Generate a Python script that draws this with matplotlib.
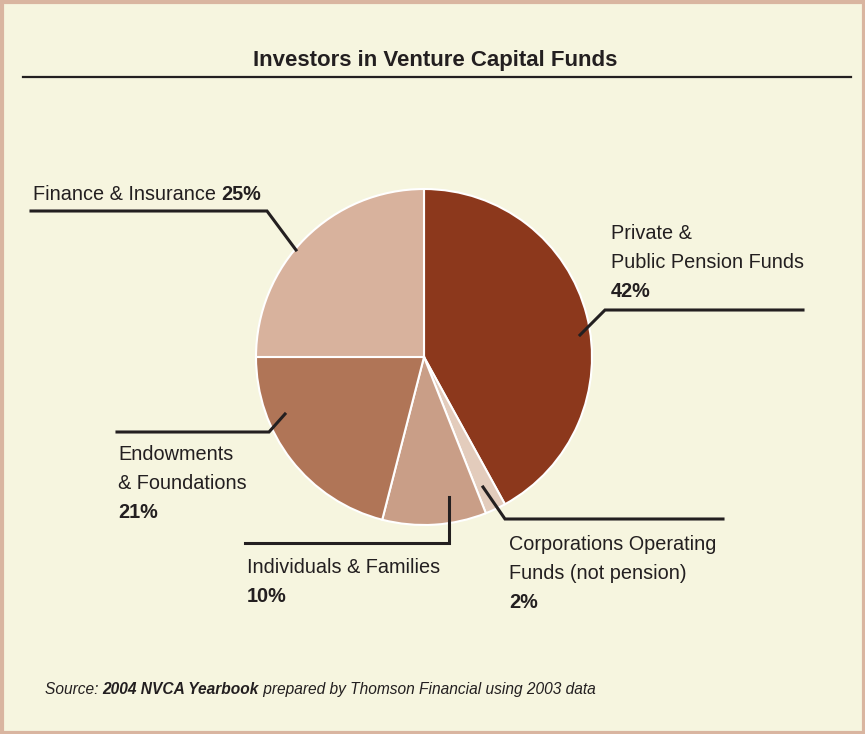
import matplotlib
matplotlib.use("Agg")
import matplotlib.pyplot as plt
from matplotlib.patches import Rectangle

# ---- data ----
categories = ["Private &\nPublic Pension Funds", "Corporations Operating\nFunds (not pension)",
              "Individuals & Families", "Endowments\n& Foundations", "Finance & Insurance"]
shares = [42, 2, 10, 21, 25]
pct_labels = ["42%", "2%", "10%", "21%", "25%"]
colors = ["#8C381C", "#E3CCBC", "#C99E87", "#B07557", "#D8B29D"]

title = "Investors in Venture Capital Funds"
BG = "#F6F5DF"
BORDER = "#D9B5A0"
INK = "#231F20"
FONT = ["Liberation Sans", "DejaVu Sans"]

W, H = 865, 734
fig = plt.figure(figsize=(W / 100, H / 100), dpi=100)
fig.patch.set_facecolor(BG)

# pie axes: centre (424,357) px, radius 168 px
cx, cy, r = 424, 357, 168
axp = fig.add_axes([(cx - r) / W, (H - cy - r) / H, 2 * r / W, 2 * r / H])
axp.pie(shares, colors=colors, startangle=90, counterclock=False,
        wedgeprops=dict(edgecolor="white", linewidth=1.5))
axp.set_xlim(-1, 1)
axp.set_ylim(-1, 1)
axp.set_aspect("auto")
axp.axis("off")

# overlay axes in pixel coordinates for text/leader lines
ax = fig.add_axes([0, 0, 1, 1], facecolor="none")
ax.set_xlim(0, W)
ax.set_ylim(H, 0)
ax.axis("off")
ax.set_zorder(5)

# border
ax.add_patch(Rectangle((1.5, 1.5), W - 3, H - 3, fill=False, edgecolor=BORDER, linewidth=3))

# title + rule
ax.text(435, 66, title, ha="center", va="baseline", fontsize=16, fontweight="bold",
        family=FONT, color=INK)
ax.plot([23, 851], [77, 77], color=INK, lw=1.6)

lw = 2.2
fs = 14.3

def txt(x, y, s, bold=False, **kw):
    return ax.text(x, y, s, ha="left", va="baseline", fontsize=fs,
                   fontweight="bold" if bold else "normal", family=FONT, color=INK, **kw)

# Finance & Insurance (single line, bold percentage)
t = txt(33, 200, categories[4] + " ")
fig.canvas.draw()
bb = t.get_window_extent().transformed(ax.transData.inverted())
txt(bb.x1, 200, pct_labels[4], bold=True)
ax.plot([31, 267, 296], [211, 211, 250], color=INK, lw=lw, solid_joinstyle="miter")

# Private & Public Pension Funds
l1, l2 = categories[0].split("\n")
txt(611, 239, l1)
txt(611, 268, l2)
txt(611, 297, pct_labels[0], bold=True)
ax.plot([580, 605, 803], [335, 310, 310], color=INK, lw=lw, solid_joinstyle="miter")

# Corporations Operating Funds
l1, l2 = categories[1].split("\n")
txt(509, 550, l1)
txt(509, 579, l2)
txt(509, 608, pct_labels[1], bold=True)
ax.plot([483, 505, 723], [487, 519, 519], color=INK, lw=lw, solid_joinstyle="miter")

# Individuals & Families
txt(247, 573, categories[2])
txt(247, 602, pct_labels[2], bold=True)
ax.plot([449, 449, 245], [497, 543, 543], color=INK, lw=lw, solid_joinstyle="miter")

# Endowments & Foundations
l1, l2 = categories[3].split("\n")
txt(118, 460, l1)
txt(118, 489, l2)
txt(118, 518, pct_labels[3], bold=True)
ax.plot([285, 269, 117], [414, 432, 432], color=INK, lw=lw, solid_joinstyle="miter")

# source line
sfs = 11.2
parts = [("Source: ", "normal"), ("2004 NVCA Yearbook", "bold"),
         (" prepared by Thomson Financial using 2003 data", "normal")]
x = 45
for s, w in parts:
    tt = ax.text(x, 694, s, ha="left", va="baseline", fontsize=sfs, fontweight=w,
                 fontstyle="italic", family=FONT, color=INK)
    fig.canvas.draw()
    x = tt.get_window_extent().transformed(ax.transData.inverted()).x1

fig.savefig("out.png", dpi=100, facecolor=BG)
